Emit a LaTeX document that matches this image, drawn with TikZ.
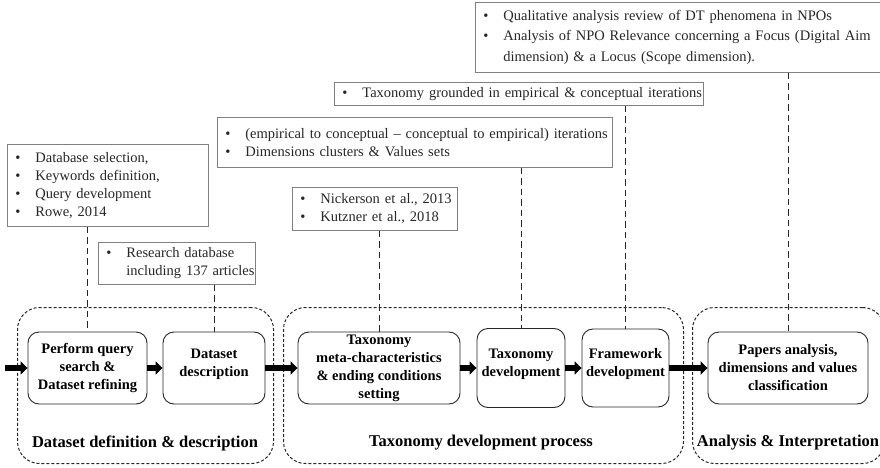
\documentclass[tikz,border=0pt]{standalone}
\usepackage{fontspec}
\setmainfont{Liberation Serif}
\usetikzlibrary{arrows.meta}
% bullet item and continuation line for the note boxes
\newcommand{\itm}[1]{\makebox[20pt][l]{\textbullet}\mbox{#1}}
\newcommand{\cnt}[1]{\hspace*{20pt}\mbox{#1}}
\begin{document}
\begin{tikzpicture}[x=1pt,y=-1pt,
  note/.style={draw=black!50, line width=0.8pt, anchor=north west,
    inner xsep=8pt, inner ysep=0pt, align=left, text=black!85,
    font=\fontsize{14.5}{18}\selectfont},
  proc/.style={draw=black!85, line width=0.9pt, rounded corners=11pt,
    align=center, inner sep=0pt, font=\bfseries\fontsize{14.5}{18}\selectfont},
  raised/.style={text depth=11pt},
  grp/.style={draw=black!85, line width=1pt, dash pattern=on 3pt off 2pt,
    rounded corners=22pt, anchor=north west, inner sep=0pt},
  grplabel/.style={font=\bfseries\fontsize{16.5}{20}\selectfont, inner sep=0pt},
  link/.style={draw=black!85, line width=0.9pt, dash pattern=on 6.5pt off 4pt},
  flow/.style={draw=black, line width=5.5pt, -{Triangle[length=7pt,width=13pt]}}
]
\clip (0,0) rectangle (880,468);

% phase groups
\node[grp, minimum width=256pt, minimum height=156pt] (g1) at (17,307) {};
\node[grp, minimum width=400pt, minimum height=156pt] (g2) at (283,307) {};
\node[grp, minimum width=192pt, minimum height=156pt] (g3) at (692,307) {};
\node[grplabel] (l1) at (145,443) {Dataset definition \& description};
\node[grplabel] (l2) at (481,443) {Taxonomy development process};
\node[grplabel] (l3) at (788,443) {Analysis \& Interpretation};

% process steps
\node[proc, minimum width=119pt, minimum height=72pt] (perform) at (87.5,368)
  {Perform query\\search \&\\Dataset refining};
\node[proc, raised, minimum width=102pt, minimum height=72pt] (dsdesc) at (214,368)
  {Dataset\\description};
\node[proc, minimum width=162pt, minimum height=72pt] (meta) at (379,368)
  {Taxonomy\\meta-characteristics\\\& ending conditions\\setting};
\node[proc, raised, minimum width=88pt, minimum height=79pt] (taxdev) at (521,368)
  {Taxonomy\\development};
\node[proc, raised, minimum width=87pt, minimum height=78pt] (frame) at (625.5,368)
  {Framework\\development};
\node[proc, minimum width=160pt, minimum height=72pt] (papers) at (788,368)
  {Papers analysis,\\dimensions and values\\classification};

% notes
\node[note, text width=185pt, minimum height=82pt] (nA) at (7,144)
  {\itm{Database selection,}\\\itm{Keywords definition,}\\\itm{Query development}\\\itm{Rowe, 2014}};
\node[note, text width=141pt, minimum height=42pt] (nB) at (98,242)
  {\itm{Research database}\\\cnt{including 137 articles}};
\node[note, text width=379pt, minimum height=50pt] (nC) at (217,117)
  {\itm{(empirical to conceptual -- conceptual to empirical) iterations}\\\itm{Dimensions clusters \& Values sets}};
\node[note, text width=149pt, minimum height=43pt] (nD) at (292,187)
  {\itm{Nickerson et al., 2013}\\\itm{Kutzner et al., 2018}};
\node[note, text width=353pt, minimum height=23pt] (nE) at (334,82)
  {\itm{Taxonomy grounded in empirical \& conceptual iterations}};
\node[note, text width=404pt, minimum height=70pt, font=\fontsize{14.5}{20.5}\selectfont] (nF) at (475,2)
  {\itm{Qualitative analysis review of DT phenomena in NPOs}\\\itm{Analysis of NPO Relevance concerning a Focus (Digital Aim}\\\cnt{dimension) \& a Locus (Scope dimension).}};

% dashed links from notes to steps
\draw[link] (perform.north |- nA.south) -- (perform.north);
\draw[link] (dsdesc.north |- nB.south) -- (dsdesc.north);
\draw[link] (meta.north |- nD.south) -- (meta.north);
\draw[link] (taxdev.north |- nC.south) -- (taxdev.north);
\draw[link] (frame.north |- nE.south) -- (frame.north);
\draw[link] (papers.north |- nF.south) -- (papers.north);

% process flow
\coordinate (entry) at (5,368);
\draw[flow] (entry) -- (perform.west);
\draw[flow] (perform.east) -- (dsdesc.west);
\draw[flow] (dsdesc.east) -- (meta.west);
\draw[flow] (meta.east) -- (taxdev.west);
\draw[flow] (taxdev.east) -- (frame.west);
\draw[flow] (frame.east) -- (papers.west);
\end{tikzpicture}
\end{document}
